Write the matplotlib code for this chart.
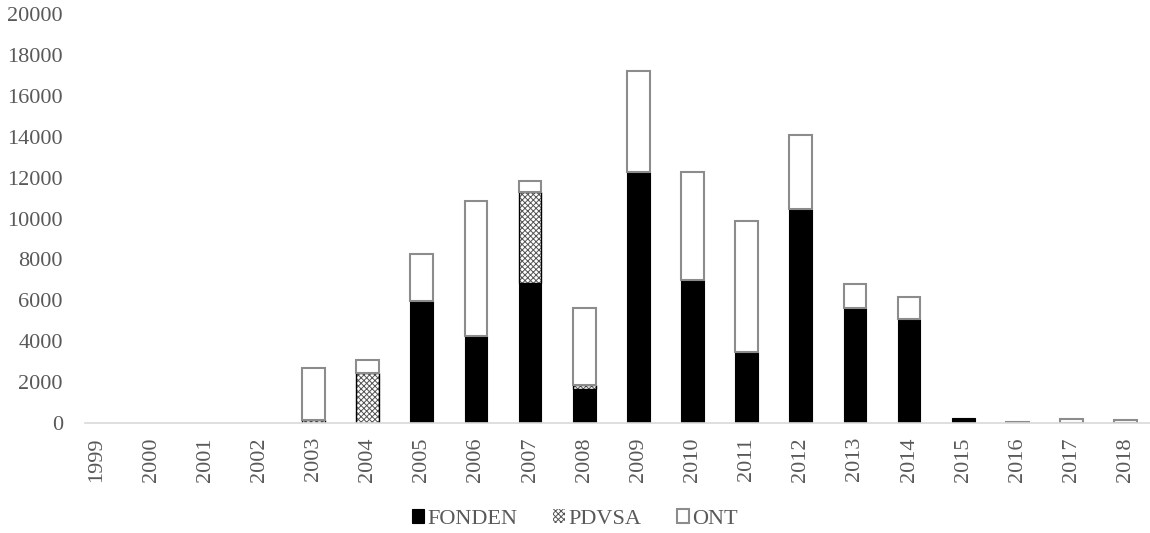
import matplotlib
matplotlib.use("Agg")
import matplotlib.pyplot as plt
import numpy as np

years = [str(y) for y in range(1999, 2019)]
fonden = [0, 0, 0, 0, 0, 0, 5980, 4270, 6830, 1650, 12290, 6990, 3490, 10450, 5650, 5100, 250, 0, 0, 0]
pdvsa = [0, 0, 0, 0, 150, 2450, 0, 0, 4450, 210, 0, 0, 0, 0, 0, 0, 0, 0, 0, 0]
ont = [0, 0, 0, 0, 2550, 650, 2270, 6590, 540, 3780, 4920, 5280, 6400, 3650, 1150, 1050, 0, 80, 220, 160]

plt.rcParams["font.family"] = ["Liberation Serif", "DejaVu Serif"]
plt.rcParams["hatch.linewidth"] = 0.7

text_color = "#595959"
fs = 16

fig = plt.figure(figsize=(11.5, 5.33), dpi=100)
ax = fig.add_axes([0.074, 0.206, 0.926, 0.768])

x = np.arange(len(years))
width = 0.42
fonden_arr = np.array(fonden, dtype=float)
pdvsa_arr = np.array(pdvsa, dtype=float)
ont_arr = np.array(ont, dtype=float)


def nz(values):
    # empty segments are left out so no stray edges show up on the axis
    return np.where(values > 0, values, np.nan)


ax.bar(x, nz(fonden_arr), width, color="black", edgecolor="black", linewidth=0.8, label="FONDEN")
ax.bar(x, nz(pdvsa_arr), width, bottom=fonden_arr, color="white", edgecolor="#555555",
       hatch="xxxxxx", linewidth=0, label="PDVSA")
ax.bar(x, nz(pdvsa_arr), width, bottom=fonden_arr, fill=False, edgecolor="black", linewidth=1.0)
ax.bar(x, nz(ont_arr), width, bottom=fonden_arr + pdvsa_arr, color="white", edgecolor="#8c8c8c",
       linewidth=1.5, label="ONT")

ax.set_xlim(-0.22, len(years) - 0.55)
ax.set_ylim(0, 20000)
ax.set_yticks(range(0, 20001, 2000))
ax.set_xticks(x)
ax.set_xticklabels(years, rotation=90)
ax.tick_params(axis="both", length=0, labelsize=fs, colors=text_color)
ax.tick_params(axis="y", pad=16)
ax.tick_params(axis="x", pad=10)

for side in ["top", "right", "left"]:
    ax.spines[side].set_visible(False)
ax.spines["bottom"].set_color("#d9d9d9")
ax.spines["bottom"].set_linewidth(1.2)

handles, labels = ax.get_legend_handles_labels()
leg = fig.legend(handles, labels, loc="lower center", bbox_to_anchor=(0.5, -0.03), ncol=3,
                 frameon=False, fontsize=fs, handlelength=0.55, handleheight=0.55,
                 handletextpad=0.15, columnspacing=1.6)
for t in leg.get_texts():
    t.set_color(text_color)

fig.savefig("out.png", dpi=100)
